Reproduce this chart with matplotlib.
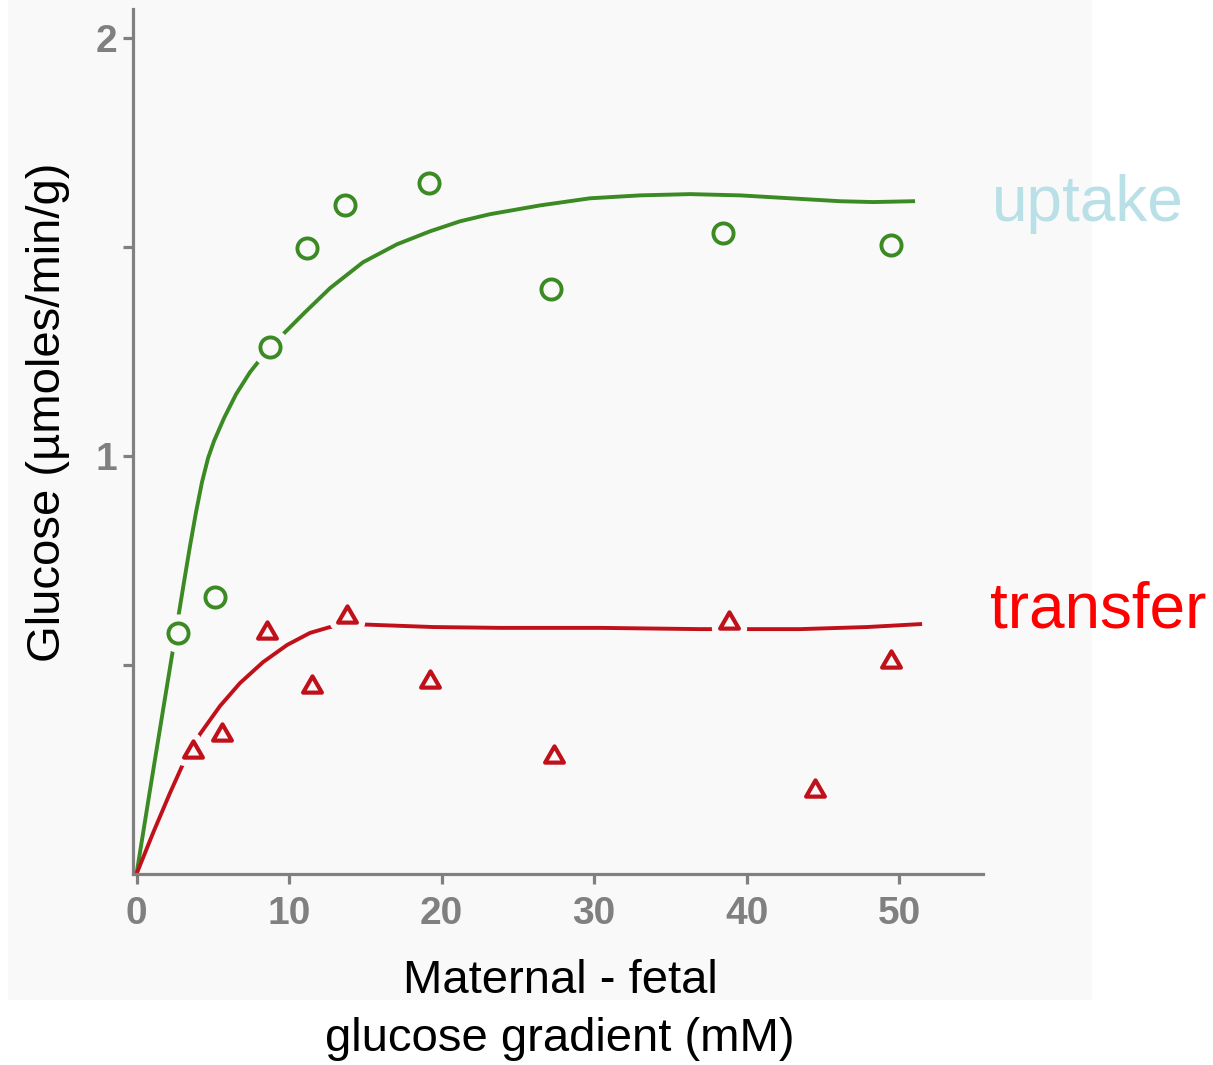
import numpy as np
import matplotlib
matplotlib.use("Agg")
import matplotlib.pyplot as plt
from matplotlib.patches import Rectangle
from matplotlib.path import Path

plt.rcParams['font.family'] = ['Liberation Sans', 'DejaVu Sans']

# measured points
uptake_x = [2.72, 5.15, 8.75, 11.18, 13.67, 19.18, 27.18, 38.46, 49.48]
uptake_y = [0.577, 0.663, 1.261, 1.498, 1.600, 1.653, 1.400, 1.533, 1.505]

transfer_x = [3.72, 5.63, 8.54, 11.53, 13.82, 19.25, 27.38, 38.87, 44.49, 49.49]
transfer_y = [0.298, 0.340, 0.585, 0.455, 0.622, 0.466, 0.287, 0.608, 0.207, 0.514]

# fitted curves
uptake_fit_x = [0, 0.885, 1.738, 2.525, 3.115, 3.508, 3.902, 4.295, 4.689, 5.082, 5.738,
                6.525, 7.443, 8.492, 9.672, 10.984, 12.689, 14.852, 17.082, 19.246,
                21.213, 23.180, 26.459, 29.738, 33.016, 36.295, 39.574, 42.852, 46.131,
                48.295, 50.918]
uptake_fit_y = [0, 0.201, 0.392, 0.567, 0.699, 0.785, 0.866, 0.938, 0.995, 1.036, 1.091,
                1.148, 1.201, 1.249, 1.294, 1.342, 1.402, 1.464, 1.507, 1.538, 1.562,
                1.579, 1.600, 1.617, 1.624, 1.627, 1.624, 1.617, 1.610, 1.608, 1.610]

transfer_fit_x = [0, 1.082, 2.197, 2.984, 4.164, 5.475, 6.787, 8.295, 9.869, 11.377,
                  12.689, 14.197, 19.443, 23.836, 30.393, 36.951, 43.508, 47.902, 51.377]
transfer_fit_y = [0, 0.098, 0.194, 0.258, 0.335, 0.402, 0.457, 0.507, 0.548, 0.577,
                  0.591, 0.598, 0.591, 0.589, 0.589, 0.586, 0.586, 0.591, 0.598]

xticks = [0, 10, 20, 30, 40, 50]
yticks = [0.5, 1, 1.5, 2]
ytick_labels = ["", "1", "", "2"]

bg = "#f9f9f9"
axis_grey = "#808080"
green = "#3b8a24"
dark_red = "#c0101a"

fig = plt.figure(figsize=(12.13, 10.65), dpi=100)
fig.patch.set_facecolor("white")
fig.patches.append(Rectangle((8 / 1213, 65 / 1065), 1084 / 1213, 1000 / 1065,
                             transform=fig.transFigure, facecolor=bg,
                             edgecolor="none", zorder=-5))

ax = fig.add_axes([133 / 1213, 191 / 1065, 850 / 1213, 865 / 1065])
ax.set_facecolor(bg)
ax.set_xlim(-0.23, 55.5)
ax.set_ylim(0, 2.07)

tri = Path([(-1, -0.866), (1, -0.866), (0, 0.866), (-1, -0.866)],
           [Path.MOVETO, Path.LINETO, Path.LINETO, Path.CLOSEPOLY])

ax.plot(uptake_fit_x, uptake_fit_y, color=green, lw=2.8, zorder=2, clip_on=False,
        solid_joinstyle="round")
ax.plot(transfer_fit_x, transfer_fit_y, color=dark_red, lw=2.8, zorder=2, clip_on=False,
        solid_joinstyle="round")

# background halos around markers (gaps in the curves)
ax.plot(uptake_x, uptake_y, ls="none", marker="o", ms=14.5, mfc=bg, mec=bg, mew=13, zorder=3)
ax.plot(transfer_x, transfer_y, ls="none", marker=tri, ms=13.5, mfc=bg, mec=bg, mew=12, zorder=3)

ax.plot(uptake_x, uptake_y, ls="none", marker="o", ms=14.5, mfc=bg, mec=green, mew=2.8, zorder=4)
ax.plot(transfer_x, transfer_y, ls="none", marker=tri, ms=13.5, mfc=bg, mec=dark_red, mew=3.0,
        zorder=4)

for side in ["top", "right"]:
    ax.spines[side].set_visible(False)
for side in ["left", "bottom"]:
    ax.spines[side].set_color(axis_grey)
    ax.spines[side].set_linewidth(2.3)

ax.set_xticks(xticks)
ax.set_xticklabels([str(t) for t in xticks])
ax.set_yticks(yticks)
ax.set_yticklabels(ytick_labels)
ax.tick_params(axis="both", colors=axis_grey, length=7, width=2.3)
ax.tick_params(axis="x", pad=9)
ax.tick_params(axis="y", pad=4)
for lab in ax.get_xticklabels() + ax.get_yticklabels():
    lab.set_fontweight("bold")
    lab.set_fontsize(28)
    lab.set_family(["Liberation Sans Narrow", "Liberation Sans"])

fig.text(48 / 1213, 1 - 412 / 1065, "Glucose (µmoles/min/g)", rotation=90,
         ha="center", va="center", fontsize=34, color="black")
fig.text(560 / 1213, 1 - 993 / 1065, "Maternal - fetal", ha="center", va="baseline",
         fontsize=34, color="black")
fig.text(560 / 1213, 1 - 1051 / 1065, "glucose gradient (mM)", ha="center", va="baseline",
         fontsize=34, color="black")

fig.text(992 / 1213, 1 - 221 / 1065, "uptake", ha="left", va="baseline",
         fontsize=46, color="#b9e0e6")
fig.text(990 / 1213, 1 - 628 / 1065, "transfer", ha="left", va="baseline",
         fontsize=46, color="#ff0000")

fig.savefig("out.png", dpi=100, facecolor="white")
